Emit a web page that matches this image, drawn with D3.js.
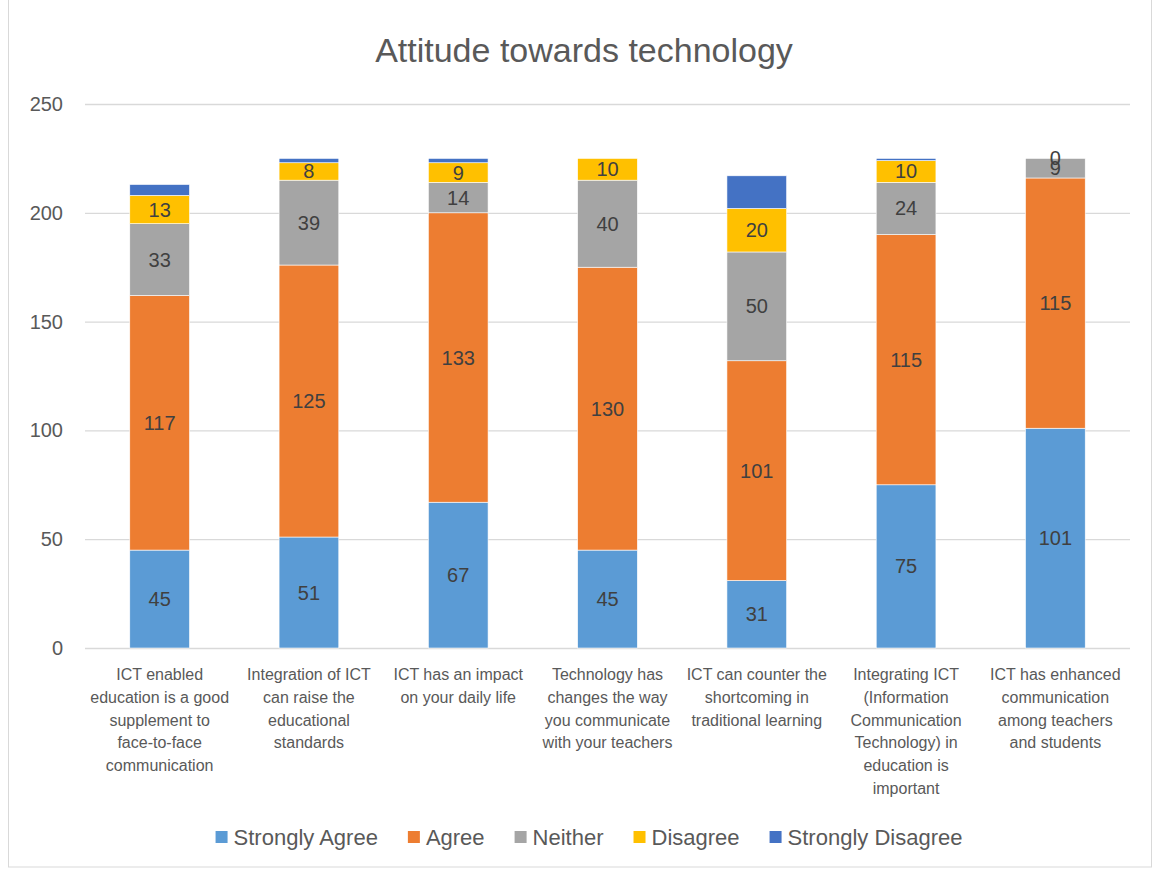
<!DOCTYPE html>
<html>
<head>
<meta charset="utf-8">
<script src="https://cdn.jsdelivr.net/npm/d3@7"></script>
<style>
  html, body { margin: 0; padding: 0; background: #fff; }
  svg { display: block; font-family: "Liberation Sans", Arial, sans-serif; }
</style>
</head>
<body>
<svg id="chart" width="1155" height="870"></svg>
<script>
const title = "Attitude towards technology";
const categories = [
  ["ICT enabled", "education is a good", "supplement to", "face-to-face", "communication"],
  ["Integration of ICT", "can raise the", "educational", "standards"],
  ["ICT has an impact", "on your daily life"],
  ["Technology has", "changes the way", "you communicate", "with your teachers"],
  ["ICT can counter the", "shortcoming in", "traditional learning"],
  ["Integrating ICT", "(Information", "Communication", "Technology) in", "education is", "important"],
  ["ICT has enhanced", "communication", "among teachers", "and students"]
];
const seriesNames = ["Strongly Agree", "Agree", "Neither", "Disagree", "Strongly Disagree"];
const stronglyAgree = [45, 51, 67, 45, 31, 75, 101];
const agree = [117, 125, 133, 130, 101, 115, 115];
const neither = [33, 39, 14, 40, 50, 24, 9];
const disagree = [13, 8, 9, 10, 20, 10, 0];
const stronglyDisagree = [5, 2, 2, 0, 15, 1, 0];
const yTicks = [0, 50, 100, 150, 200, 250];
const colors = ["#5B9BD5", "#ED7D31", "#A5A5A5", "#FFC000", "#4472C4"];
const showLabels = [true, true, true, true, false];

const seriesValues = [stronglyAgree, agree, neither, disagree, stronglyDisagree];
const rows = categories.map((c, i) => {
  const r = { idx: i };
  seriesNames.forEach((s, k) => r[s] = seriesValues[k][i]);
  return r;
});

const svg = d3.select("#chart");
const W = 1155, H = 870;
const plot = { left: 85, right: 1130, top: 104, bottom: 648 };

// chart border
svg.append("rect").attr("x", 8.5).attr("y", -1).attr("width", W - 12).attr("height", H - 2)
  .attr("fill", "#fff").attr("stroke", "#d9d9d9").attr("stroke-width", 1);

const x = d3.scaleBand().domain(d3.range(categories.length))
  .range([plot.left, plot.right]).paddingInner(0.6).paddingOuter(0.3);
const y = d3.scaleLinear().domain([0, 250]).range([plot.bottom, plot.top]);

// title
svg.append("text").attr("x", 584).attr("y", 62).attr("text-anchor", "middle")
  .attr("font-size", 34).attr("fill", "#595959").text(title);

// gridlines
const yAxis = d3.axisLeft(y).tickValues(yTicks).tickSize(-(plot.right - plot.left)).tickPadding(22);
const gy = svg.append("g").attr("transform", `translate(${plot.left},0)`).call(yAxis);
gy.select(".domain").remove();
gy.selectAll(".tick line").attr("stroke", "#d9d9d9").attr("stroke-width", 1.3);
gy.selectAll(".tick text").attr("font-size", 20).attr("fill", "#595959")
  .attr("font-family", "Liberation Sans, Arial, sans-serif");

// stacked bars
const stack = d3.stack().keys(seriesNames);
const stacked = stack(rows);
const layers = svg.append("g").selectAll("g").data(stacked).join("g")
  .attr("fill", (d, i) => colors[i]);
layers.selectAll("rect").data(d => d).join("rect")
  .attr("x", d => x(d.data.idx))
  .attr("width", x.bandwidth())
  .attr("y", d => y(d[1]))
  .attr("height", d => Math.max(0, y(d[0]) - y(d[1])))
  .attr("stroke", "#fff").attr("stroke-width", 0.6);

// data labels
stacked.forEach((layer, k) => {
  if (!showLabels[k]) return;
  svg.append("g").selectAll("text").data(layer).join("text")
    .attr("x", d => x(d.data.idx) + x.bandwidth() / 2)
    .attr("y", d => (y(d[0]) + y(d[1])) / 2)
    .attr("dy", "0.35em")
    .attr("text-anchor", "middle")
    .attr("font-size", 20)
    .attr("fill", "#404040")
    .text(d => d.data[seriesNames[k]]);
});

// x category labels
const xl = svg.append("g");
categories.forEach((lines, i) => {
  const t = xl.append("text")
    .attr("x", x(i) + x.bandwidth() / 2)
    .attr("y", 680)
    .attr("text-anchor", "middle")
    .attr("font-size", 16)
    .attr("fill", "#595959");
  lines.forEach((ln, j) => {
    t.append("tspan").attr("x", x(i) + x.bandwidth() / 2).attr("dy", j === 0 ? 0 : 22.8).text(ln);
  });
});

// legend
const lg = svg.append("g");
const items = [];
seriesNames.forEach((s, k) => {
  const g = lg.append("g");
  g.append("rect").attr("x", 0).attr("y", -6).attr("width", 12).attr("height", 12).attr("fill", colors[k]);
  const tx = g.append("text").attr("x", 18).attr("y", 0).attr("dy", "0.35em")
    .attr("font-size", 22).attr("fill", "#595959").text(s);
  const w = 18 + tx.node().getComputedTextLength();
  items.push({ g, w });
});
const gap = 30;
const total = d3.sum(items, d => d.w) + gap * (items.length - 1);
let start = 589 - total / 2;
items.forEach(it => { it.g.attr("transform", `translate(${start},837)`); start += it.w + gap; });
</script>
</body>
</html>
